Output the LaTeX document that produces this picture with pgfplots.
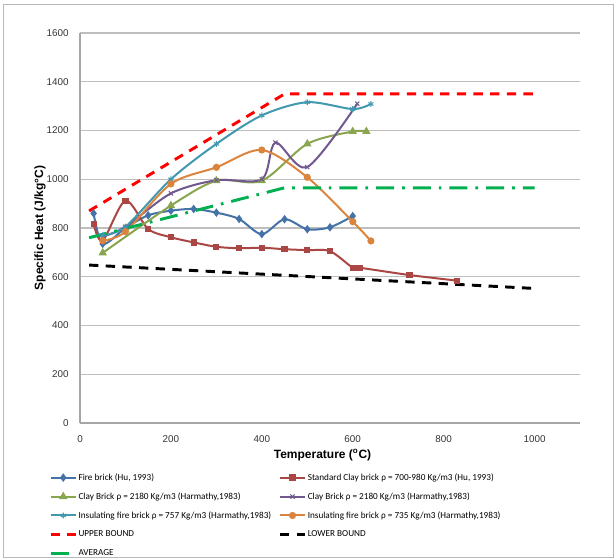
\documentclass[border=0pt]{standalone}
\usepackage{pgfplots}
\pgfplotsset{compat=1.18}
\usepackage{fontspec}
\setmainfont{Liberation Sans}
\newfontfamily\legendfont{Carlito}

\definecolor{sBlue}{HTML}{4572A7}
\definecolor{sRed}{HTML}{AA4643}
\definecolor{sGreen}{HTML}{89A54E}
\definecolor{sPurple}{HTML}{71588F}
\definecolor{sCyan}{HTML}{4198AF}
\definecolor{sOrange}{HTML}{DB843D}
\definecolor{avgGreen}{HTML}{00B050}
\definecolor{gridGray}{HTML}{BEBEBE}
\definecolor{axisGray}{HTML}{A6A6A6}

\begin{document}
\begin{tikzpicture}
\begin{axis}[
  scale only axis,
  width=375pt, height=292.5pt,
  xmin=0, xmax=1100, ymin=0, ymax=1600,
  xtick={0,200,...,1000}, ytick={0,200,...,1600},
  axis x line=bottom, axis y line=left,
  axis line style={draw=axisGray, line width=0.8pt, -},
  major tick length=0pt,
  ymajorgrids, grid style={gridGray, line width=0.8pt},
  /pgf/number format/assume math mode=true,
  /pgf/number format/1000 sep={},
  tick label style={font=\fontsize{7.4}{8}\selectfont, text=black!80},
  xticklabel style={yshift=-6pt},
  yticklabel style={xshift=-5pt},
  xlabel={Temperature (\textsuperscript{o}C)},
  ylabel={Specific Heat (J/kg°C)},
  label style={font=\bfseries\fontsize{9}{10}\selectfont},
  xlabel style={at={(axis description cs:0.485,-0.082)}, anchor=center},
  ylabel style={at={(axis description cs:-0.08,0.5)}, anchor=center},
  legend columns=2,
  legend cell align=left,
  legend style={
    at={(rel axis cs:-0.062,-0.124)}, anchor=north west,
    draw=none, fill=none, inner sep=0pt,
    font=\legendfont\fontsize{6.9}{8}\selectfont,
    row sep=5.2pt,
    nodes={inner xsep=1pt, inner ysep=1pt, text height=5.4pt, text depth=1.6pt},
  },
  legend image code/.code={
    \draw[mark repeat=2, mark phase=2]
      plot coordinates {(0pt,0pt) (9.4pt,0pt) (18.75pt,0pt)};
  },
  every axis plot/.append style={line width=1.5pt},
]

% Fire brick (Hu, 1993)
\addplot[sBlue, smooth, mark=diamond*, mark size=2pt,
  mark options={solid, fill=sBlue}] coordinates {
  (30,860) (50,735) (100,800) (150,852) (200,871) (250,878) (300,863)
  (350,837) (400,775) (450,836) (500,795) (550,803) (600,849)};
\addlegendentry{\makebox[149pt][l]{Fire brick (Hu, 1993)}}

% Standard clay brick (Hu, 1993)
\addplot[sRed, smooth, mark=square*, mark size=1.6pt,
  mark options={solid, fill=sRed}] coordinates {
  (30,815) (50,748) (100,912) (150,796) (200,762) (250,741) (300,723)
  (350,717) (400,719) (450,713) (500,709) (550,705) (600,637) (615,637)
  (725,607) (830,584)};
\addlegendentry{Standard Clay brick  ρ = 700-980 Kg/m3 (Hu, 1993)}

% Clay brick, Harmathy
\addplot[sGreen, smooth, mark=triangle*, mark size=2.2pt,
  mark options={solid, fill=sGreen}] coordinates {
  (50,698) (200,892) (300,994) (400,994) (500,1145) (600,1196) (630,1196)};
\addlegendentry{\makebox[149pt][l]{Clay Brick ρ = 2180 Kg/m3  (Harmathy,1983)}}

\addplot[sPurple, smooth, mark=x, mark size=2.2pt,
  mark options={solid, line width=0.8pt}] coordinates {
  (50,765) (100,805) (200,942) (300,996) (400,1000) (430,1150) (500,1050)
  (610,1310)};
\addlegendentry{Clay Brick ρ = 2180 Kg/m3  (Harmathy,1983)}

% Insulating fire bricks, Harmathy
\addplot[sCyan, smooth, mark=asterisk, mark size=2.2pt,
  mark options={solid, line width=0.8pt}] coordinates {
  (50,770) (100,805) (200,1000) (300,1145) (400,1262) (500,1316)
  (600,1288) (640,1309)};
\addlegendentry{\makebox[149pt][l]{Insulating fire brick ρ = 757 Kg/m3  (Harmathy,1983)}}

\addplot[sOrange, smooth, mark=*, mark size=1.9pt,
  mark options={solid, fill=sOrange}] coordinates {
  (50,748) (100,785) (200,981) (300,1049) (400,1120) (500,1008)
  (600,826) (640,747)};
\addlegendentry{Insulating fire brick ρ = 735 Kg/m3  (Harmathy,1983)}

% Bounds and average
\addplot[red, line width=2.2pt, dash pattern=on 7pt off 5.5pt] coordinates {
  (20,870) (450,1350) (1000,1350)};
\addlegendentry{\makebox[149pt][l]{UPPER BOUND}}

\addplot[black, line width=2.2pt, dash pattern=on 7pt off 5.5pt] coordinates {
  (20,648) (1000,552)};
\addlegendentry{LOWER BOUND}

\addplot[avgGreen, line width=2.2pt,
  dash pattern=on 13.5pt off 6pt on 2pt off 6pt] coordinates {
  (20,760) (450,965) (1000,965)};
\addlegendentry{\makebox[149pt][l]{AVERAGE}}

\end{axis}

% chart area border
\draw[gray!55, line width=0.75pt] (-57pt,-100.5pt) rectangle (399.75pt,314.25pt);

\pgfresetboundingbox
\path (-60pt,-101.25pt) rectangle (400.5pt,317.25pt);
\end{tikzpicture}
\end{document}
